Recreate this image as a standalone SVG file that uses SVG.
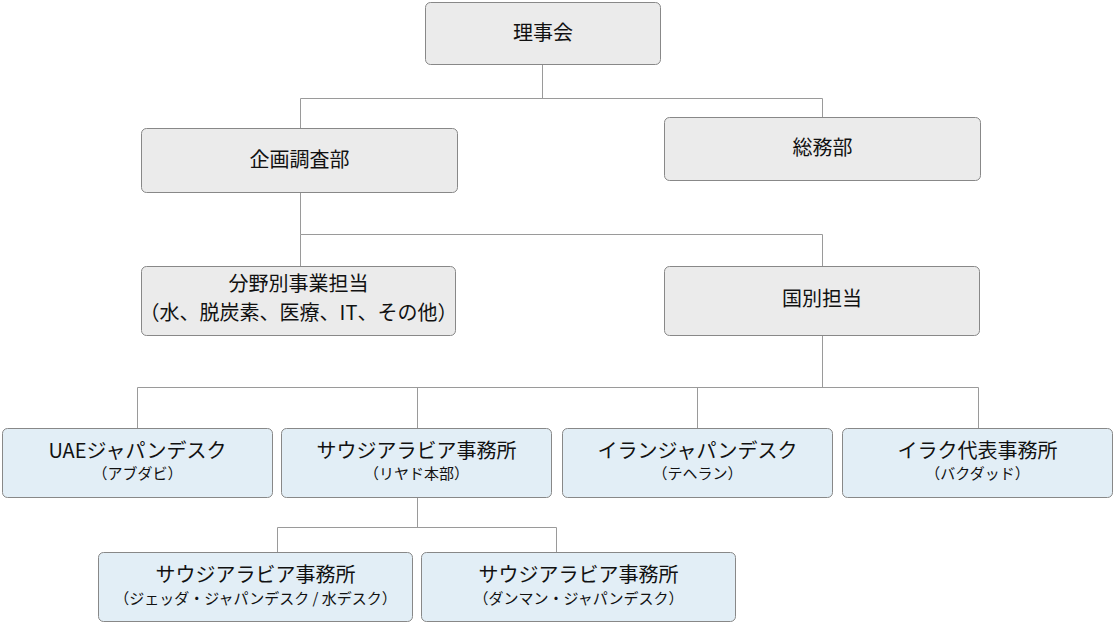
<svg xmlns="http://www.w3.org/2000/svg" width="1115" height="623" viewBox="0 0 1115 623">
<style>
.g{fill:#ebebeb;stroke:#888;stroke-width:1}
.b{fill:#e2eef6;stroke:#888;stroke-width:1}
.t{font-family:"Noto Sans CJK JP","Noto Sans",sans-serif;font-size:20px;fill:#111;text-anchor:middle}
.s{font-family:"Noto Sans CJK JP","Noto Sans",sans-serif;font-size:15px;fill:#111;text-anchor:middle}
.c{fill:none;stroke:#9a9a9a;stroke-width:1}
</style>
<rect width="1115" height="623" fill="#fff"/>
<g id="connectors">
<path class="c" d="M542.5 64V98.5M300.5 98.5H822.5M300.5 98.5V128M822.5 98.5V117"/>
<path class="c" d="M300.5 192V234.5M300.5 234.5H822.5M300.5 234.5V266M822.5 234.5V266"/>
<path class="c" d="M822.5 336V387.5M137.5 387.5H978.5M137.5 387.5V428M417.5 387.5V428M697.5 387.5V428M978.5 387.5V428"/>
<path class="c" d="M417.5 497V527.5M277.5 527.5H556.5M277.5 527.5V552M556.5 527.5V552"/>
</g>
<g id="n-rijikai"><rect class="g" x="425.5" y="2.5" width="235" height="62" rx="5"/><text class="t" x="543" y="40">理事会</text></g>
<g id="n-kikaku"><rect class="g" x="141.5" y="128.5" width="316" height="64" rx="5"/><text class="t" x="299.5" y="167">企画調査部</text></g>
<g id="n-somu"><rect class="g" x="664.5" y="117.5" width="316" height="63" rx="5"/><text class="t" x="822.5" y="155">総務部</text></g>
<g id="n-bunya"><rect class="g" x="141.5" y="266.5" width="314" height="69" rx="5"/><text class="t" x="298.5" y="291">分野別事業担当</text><text class="t" x="298.5" y="320">（水、脱炭素、医療、IT、その他）</text></g>
<g id="n-kokubetsu"><rect class="g" x="664.5" y="266.5" width="315" height="69" rx="5"/><text class="t" x="822" y="306">国別担当</text></g>
<g id="n-uae"><rect class="b" x="2.5" y="428.5" width="270" height="69" rx="5"/><text class="t" x="137.5" y="458">UAEジャパンデスク</text><text class="s" x="137.5" y="479">（アブダビ）</text></g>
<g id="n-saudi"><rect class="b" x="281.5" y="428.5" width="270" height="69" rx="5"/><text class="t" x="416.5" y="458">サウジアラビア事務所</text><text class="s" x="416.5" y="479">（リヤド本部）</text></g>
<g id="n-iran"><rect class="b" x="562.5" y="428.5" width="270" height="69" rx="5"/><text class="t" x="697.5" y="458">イランジャパンデスク</text><text class="s" x="697.5" y="479">（テヘラン）</text></g>
<g id="n-iraq"><rect class="b" x="842.5" y="428.5" width="270" height="69" rx="5"/><text class="t" x="977.5" y="458">イラク代表事務所</text><text class="s" x="977.5" y="479">（バクダッド）</text></g>
<g id="n-jeddah"><rect class="b" x="98.5" y="552.5" width="314" height="69" rx="5"/><text class="t" x="255.5" y="582">サウジアラビア事務所</text><text class="s" x="255.5" y="604">（ジェッダ・ジャパンデスク / 水デスク）</text></g>
<g id="n-dammam"><rect class="b" x="421.5" y="552.5" width="314" height="69" rx="5"/><text class="t" x="578.5" y="582">サウジアラビア事務所</text><text class="s" x="578.5" y="604">（ダンマン・ジャパンデスク）</text></g>
</svg>
